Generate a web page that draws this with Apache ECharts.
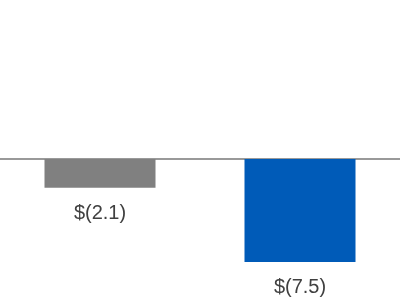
<!DOCTYPE html>
<html>
<head>
<meta charset="utf-8">
<script src="https://cdn.jsdelivr.net/npm/echarts@6/dist/echarts.min.js"></script>
<style>html,body{margin:0;padding:0;background:#fff}#c{width:400px;height:300px}</style>
</head>
<body>
<div id="c"></div>
<script>
const categories = ['A', 'B'];
const values = [-2.1, -7.5];
const colors = ['#808080', '#005BB8'];

const chart = echarts.init(document.getElementById('c'), null, {renderer: 'canvas'});
chart.setOption({
  animation: false,
  grid: {left: 0, right: 0, top: 21.7, bottom: 3.7},
  xAxis: {
    type: 'category',
    data: categories,
    axisLine: {show: true, onZero: true, lineStyle: {color: '#999999', width: 2}},
    axisTick: {show: false},
    axisLabel: {show: false},
    splitLine: {show: false}
  },
  yAxis: {
    type: 'value',
    min: -10, max: 10,
    show: false,
    splitLine: {show: false}
  },
  series: [{
    type: 'bar',
    barWidth: 111,
    data: values.map((v, i) => ({value: v, itemStyle: {color: colors[i]}})),
    label: {
      show: true,
      position: 'bottom',
      distance: 16,
      fontFamily: 'Liberation Sans, Arial, sans-serif',
      fontSize: 20,
      color: '#404040',
      formatter: p => '$(' + Math.abs(p.value).toFixed(1) + ')'
    }
  }]
});
</script>
</body>
</html>
